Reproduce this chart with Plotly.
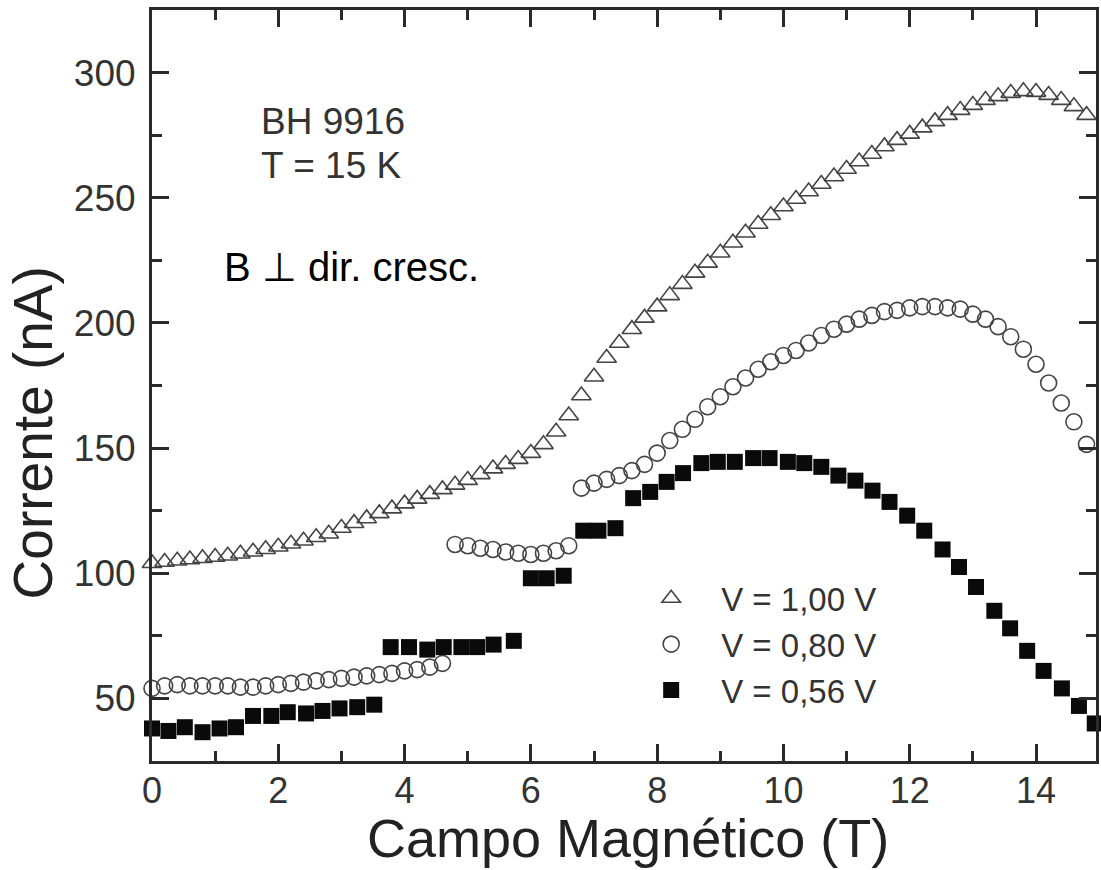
import plotly.graph_objects as go

# ---------------- data ----------------
# V = 1,00 V  (open triangles)
b_tri = [round(0.2 * k, 1) for k in range(75)]
i_tri = [104.0, 104.5, 105.0, 105.5, 106.0, 106.5, 107.0, 107.8, 108.6, 109.6,
         110.6, 111.8, 113.0, 114.4, 115.8, 118.1, 120.0, 121.9, 123.9, 125.8,
         127.8, 129.7, 131.6, 133.5, 135.3, 137.2, 139.5, 141.8, 143.6, 145.6,
         148.0, 151.5, 156.5, 163.0, 171.0, 178.5, 186.0, 192.0, 197.5, 202.0,
         206.5, 211.0, 215.5, 220.0, 224.0, 228.0, 232.0, 236.0, 239.5, 243.0,
         246.5, 249.5, 252.5, 255.5, 258.5, 261.5, 264.5, 267.5, 270.5, 273.0,
         275.5, 278.0, 280.5, 283.0, 285.0, 287.0, 289.0, 290.5, 291.8, 292.5,
         292.2, 291.0, 289.0, 286.5, 283.0]

# V = 0,80 V  (open circles)
b_circ = [0.0, 0.2, 0.4, 0.6, 0.8, 1.0, 1.2, 1.4, 1.6, 1.8, 2.0, 2.2, 2.4, 2.6,
          2.8, 3.0, 3.2, 3.4, 3.6, 3.8, 4.0, 4.2, 4.4, 4.6,
          4.8, 5.0, 5.2, 5.4, 5.6, 5.8, 6.0, 6.2, 6.4, 6.6,
          6.8, 7.0, 7.2, 7.4, 7.6, 7.8, 8.0, 8.2, 8.4, 8.6, 8.8, 9.0, 9.2, 9.4,
          9.6, 9.8, 10.0, 10.2, 10.4, 10.6, 10.8, 11.0, 11.2, 11.4, 11.6, 11.8,
          12.0, 12.2, 12.4, 12.6, 12.8, 13.0, 13.2, 13.4, 13.6, 13.8, 14.0, 14.2,
          14.4, 14.6, 14.8]
i_circ = [54.0, 55.0, 55.5, 55.0, 55.0, 55.0, 55.0, 54.5, 54.5, 55.0, 55.5, 56.0,
          56.5, 57.0, 57.5, 58.0, 58.5, 59.0, 59.5, 60.0, 61.0, 61.5, 62.5, 64.0,
          111.5, 111.0, 110.0, 109.5, 108.5, 108.0, 107.5, 108.0, 109.0, 111.0,
          134.0, 136.0, 137.5, 139.0, 141.0, 143.5, 148.0, 153.0, 157.5, 161.5,
          166.5, 170.5, 174.5, 178.0, 181.5, 184.5, 187.0, 189.0, 192.0, 195.0,
          197.5, 199.5, 201.5, 203.0, 204.5, 205.0, 206.0, 206.5, 206.5, 206.0,
          205.5, 203.5, 201.5, 198.5, 194.5, 189.5, 183.5, 176.0, 168.0, 160.5,
          151.5]

# V = 0,56 V  (filled squares)
b_sq = [0.0, 0.26, 0.52, 0.8, 1.07, 1.33, 1.6, 1.89, 2.15, 2.44, 2.7, 2.97, 3.25, 3.52,
        3.78, 4.07, 4.36, 4.62, 4.9, 5.15, 5.41, 5.73,
        6.0, 6.25, 6.52,
        6.83, 7.07, 7.34,
        7.62, 7.89, 8.15, 8.41, 8.7, 8.96, 9.23, 9.52, 9.78, 10.07, 10.33, 10.6,
        10.87, 11.14, 11.41, 11.68, 11.96, 12.23, 12.52, 12.78, 13.05, 13.34,
        13.59, 13.86, 14.12, 14.41, 14.68, 14.93]
i_sq = [38.0, 37.0, 38.5, 36.5, 38.0, 38.5, 43.0, 43.0, 44.5, 44.0, 45.0, 46.0, 46.5, 47.5,
        70.5, 70.5, 69.5, 70.5, 70.5, 70.5, 71.5, 73.0,
        98.0, 98.0, 99.0,
        117.0, 117.0, 118.0,
        130.0, 132.5, 136.5, 140.0, 144.0, 144.5, 144.5, 146.0, 146.0, 144.5, 144.0, 142.5,
        139.0, 137.0, 133.0, 128.5, 123.0, 117.0, 109.5, 102.5, 94.5, 85.0,
        78.0, 69.0, 61.0, 54.0, 47.0, 40.0]

series_names = ["V = 1,00 V", "V = 0,80 V", "V = 0,56 V"]
x_ticks = [0, 2, 4, 6, 8, 10, 12, 14]
y_ticks = [50, 100, 150, 200, 250, 300]

# ---------------- figure ----------------
FONT = "Liberation Sans, Arial, sans-serif"
GREY = "#333333"
AX = "#2a2a2a"

fig = go.Figure()
fig.add_trace(go.Scatter(
    x=b_tri, y=i_tri, mode="markers", name=series_names[0], cliponaxis=False,
    marker=dict(symbol="triangle-up-open", size=17, color="#444444",
                line=dict(width=1.6, color="#444444"))))
fig.add_trace(go.Scatter(
    x=b_circ, y=i_circ, mode="markers", name=series_names[1], cliponaxis=False,
    marker=dict(symbol="circle-open", size=16, color="#444444",
                line=dict(width=1.6, color="#444444"))))
fig.add_trace(go.Scatter(
    x=b_sq, y=i_sq, mode="markers", name=series_names[2], cliponaxis=False,
    marker=dict(symbol="square", size=16, color="#0a0a0a",
                line=dict(width=0))))

axis_common = dict(
    showline=True, linewidth=3, linecolor=AX, mirror="ticks",
    ticks="inside", tickwidth=3, tickcolor=AX, ticklen=17,
    showgrid=False, zeroline=False,
)

fig.update_xaxes(
    range=[0, 14.95], tickvals=x_ticks, ticktext=[str(v) for v in x_ticks],
    tickfont=dict(family=FONT, size=36, color=GREY), ticklabelstandoff=-4,
    minor=dict(ticks="inside", dtick=1, tick0=0, ticklen=10, tickwidth=3,
               tickcolor=AX, showgrid=False),
    **axis_common)
fig.update_yaxes(
    range=[25, 325], tickvals=y_ticks, ticktext=[str(v) for v in y_ticks],
    tickfont=dict(family=FONT, size=37, color=GREY), ticklabelstandoff=6,
    minor=dict(ticks="inside", dtick=25, tick0=0, ticklen=10, tickwidth=3,
               tickcolor=AX, showgrid=False),
    **axis_common)

fig.update_layout(
    width=1101, height=870,
    margin=dict(l=152, r=2, t=10, b=109),
    paper_bgcolor="white", plot_bgcolor="white",
    showlegend=True,
    legend=dict(x=0.497, y=0.254, xanchor="left", yanchor="top",
                bgcolor="rgba(0,0,0,0)", borderwidth=0, itemwidth=90,
                font=dict(family=FONT, size=33, color=GREY)),
    annotations=[
        dict(text="Campo Magnético (T)", xref="paper", yref="paper",
             x=(630 - 152) / 947, y=(761 - 838) / 751, xanchor="center", yanchor="middle",
             showarrow=False, font=dict(family=FONT, size=54, color="#222222")),
        dict(text="Corrente (nA)", xref="paper", yref="paper", textangle=-90,
             x=(33 - 152) / 947, y=(761 - 433) / 751, xanchor="center", yanchor="middle",
             showarrow=False, font=dict(family=FONT, size=55, color="#222222")),
        dict(text="BH 9916", xref="paper", yref="paper",
             x=(259 - 152) / 947, y=(761 - 121) / 751, xanchor="left", yanchor="middle",
             showarrow=False, font=dict(family=FONT, size=37, color=GREY)),
        dict(text="T = 15 K", xref="paper", yref="paper",
             x=(259 - 152) / 947, y=(761 - 166) / 751, xanchor="left", yanchor="middle",
             showarrow=False, font=dict(family=FONT, size=37, color=GREY)),
        dict(text="B\u00a0\u22a5\u00a0dir. cresc.", xref="paper", yref="paper",
             x=(222 - 152) / 947, y=(761 - 267) / 751, xanchor="left", yanchor="middle",
             showarrow=False, font=dict(family=FONT, size=40, color="#000000")),
    ],
)

fig.write_html("out.html")
